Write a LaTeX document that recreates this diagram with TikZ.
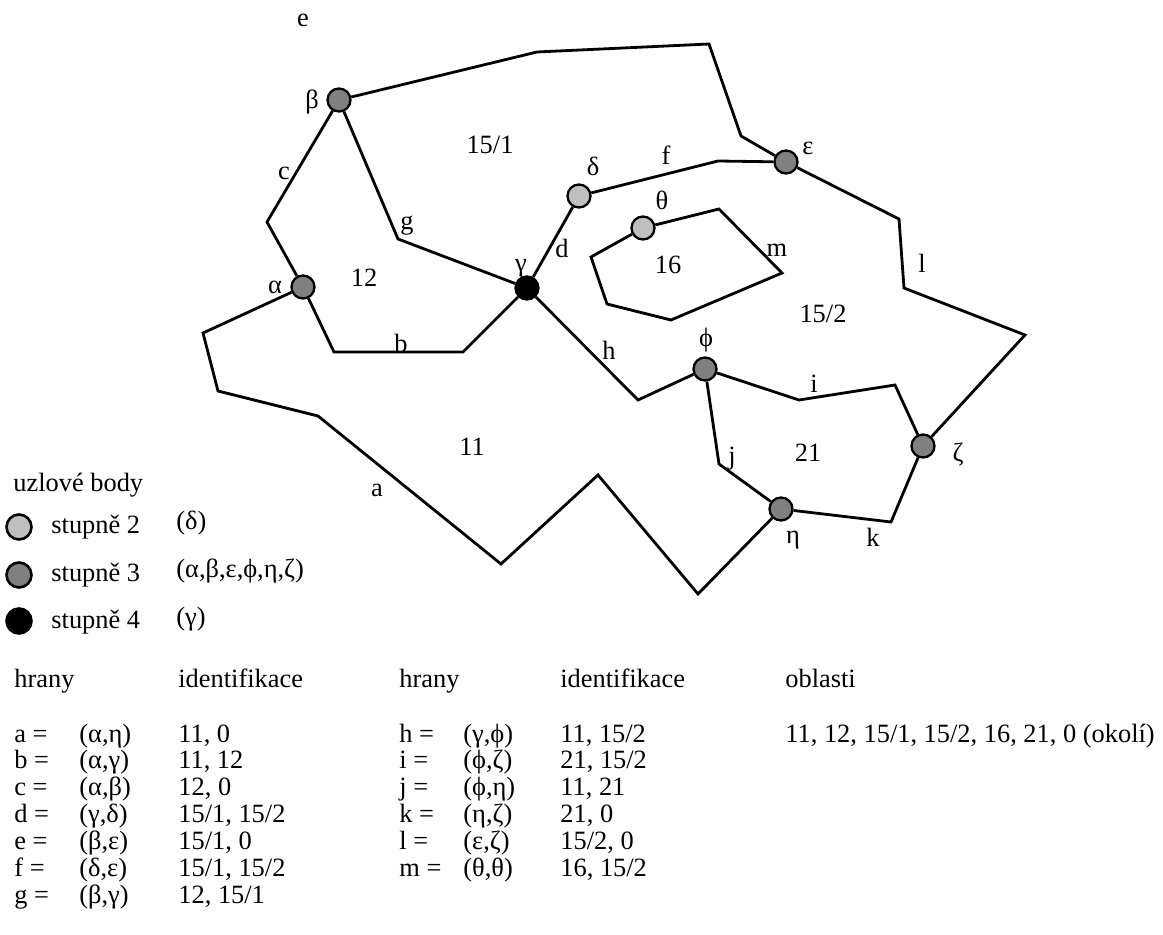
\documentclass[tikz,border=0pt]{standalone}
\usepackage{fontspec}
\setmainfont{Liberation Serif}
\usepackage{xcolor}
\usepackage{tikz}
\usetikzlibrary{positioning}

\begin{document}
\begin{tikzpicture}[x=0.5pt, y=-0.5pt, line width=1.4pt,
    every node/.style={font=\fontsize{13.2}{15}\selectfont, inner sep=0pt},
    vertex/.style={circle, draw, line width=1.15pt, minimum size=11.5pt},
    deg2/.style={vertex, fill=black!25},
    deg3/.style={vertex, fill=black!50},
    deg4/.style={vertex, fill=black},
    legendnode/.style={circle, draw, line width=1.3pt, minimum size=12.5pt},
    txt/.style={anchor=base west}]
    \useasboundingbox (0,0) rectangle (1163,935);

    % Nodes
    \node[deg3] (alpha) at (303,287) {};
    \node[deg3] (beta) at (339,100) {};
    \node[deg4] (gamma) at (527,288) {};
    \node[deg2] (delta) at (579,196) {};
    \node[deg3] (eps) at (786,162) {};
    \node[deg2] (theta) at (643,228) {};
    \node[deg3] (phi) at (705,369) {};
    \node[deg3] (zeta) at (923,446) {};
    \node[deg3] (eta) at (781,509) {};

    % Node labels
    \node (nalpha) at (275,287) {α};
    \node (nbeta) at (312,102) {β};
    \node (ngamma) at (521,268) {γ};
    \node (ndelta) at (593,166) {δ};
    \node (neps) at (808,148) {ε};
    \node (ntheta) at (662,200) {θ};
    \node (nphi) at (706,340) {ϕ};
    \node (nzeta) at (958,455) {ζ};
    \node (neta) at (793,540) {η};

    % Edges
    \draw (alpha) -- (203,333) -- (218,391) -- (318,416) -- (501,564) -- (598,475) -- (698,594) -- (eta);
    \draw (alpha) -- (334,352) -- (463,352) -- (gamma);
    \draw (alpha) -- (267,222) -- (beta);
    \draw (gamma) -- (delta);
    \draw (beta) -- (537,52) -- (709,44) -- (741,136) -- (eps);
    \draw (delta) -- (718,161) -- (eps);
    \draw (beta) -- (398,239) -- (gamma);
    \draw (gamma) -- (638,400) -- (phi);
    \draw (phi) -- (799,400) -- (895,385) -- (zeta);
    \draw (phi) -- (719,464) -- (eta);
    \draw (eta) -- (891,522) -- (zeta);
    \draw (eps) -- (899,219) -- (904,288) -- (1025,335) -- (zeta);
    \draw (theta) -- (719,209) -- (782,273) -- (671,320) -- (607,304) -- (591,257) -- (theta);

    % Edge labels
    \node (ea) at (377,490) {a};
    \node (eb) at (401,343) {b};
    \node (ec) at (284,173) {c};
    \node (ed) at (562,248) {d};
    \node (ee) at (303,20) {e};
    \node (ef) at (666,155) {f};
    \node (eg) at (407,226) {g};
    \node (eh) at (609,350) {h};
    \node (ei) at (814,384) {i};
    \node (ej) at (732,459) {j};
    \node (ek) at (873,537) {k};
    \node (el) at (922,263) {l};
    \node (em) at (777,250) {m};

    % Regions
    \node (r151) at (490,145) {15/1};
    \node (r12) at (364,278) {12};
    \node (r16) at (668,265) {16};
    \node (r152) at (823,314) {15/2};
    \node (r11) at (472,447) {11};
    \node (r21) at (808,453) {21};

    % Legend
    \node[txt] (lhead) at (12,492) {uzlové body};
    \node[legendnode, fill=black!25] (l2) at (19,527) {};
    \node[legendnode, fill=black!50] (l3) at (19,575) {};
    \node[legendnode, fill=black] (l4) at (19,621) {};
    \node[txt] (t2) at (50,534) {stupně 2};
    \node[txt] (t3) at (50,582) {stupně 3};
    \node[txt] (t4) at (50,629) {stupně 4};
    \node[txt] (v2) at (175,530) {(δ)};
    \node[txt] (v3) at (175,578) {(α,β,ε,ϕ,η,ζ)};
    \node[txt] (v4) at (175,625) {(γ)};

    % Edge table
    \node[txt] (h1) at (13,688) {hrany};
    \node[txt] (i1) at (177,688) {identifikace};
    \node[txt] (h2) at (398,688) {hrany};
    \node[txt] (i2) at (559,688) {identifikace};
    \node[txt] (ob) at (784,688) {oblasti};

    \node[txt] (qa) at (13,742) {a =};
    \node[txt] (pa) at (78,742) {(α,η)};
    \node[txt] (ia) at (177,742) {11, 0};
    \node[txt] (qb) at (13,769) {b =};
    \node[txt] (pb) at (78,769) {(α,γ)};
    \node[txt] (ib) at (177,769) {11, 12};
    \node[txt] (qc) at (13,795) {c =};
    \node[txt] (pc) at (78,795) {(α,β)};
    \node[txt] (ic) at (177,795) {12, 0};
    \node[txt] (qd) at (13,822) {d =};
    \node[txt] (pd) at (78,822) {(γ,δ)};
    \node[txt] (id) at (177,822) {15/1, 15/2};
    \node[txt] (qe) at (13,849) {e =};
    \node[txt] (pe) at (78,849) {(β,ε)};
    \node[txt] (ie) at (177,849) {15/1, 0};
    \node[txt] (qf) at (13,876) {f =};
    \node[txt] (pf) at (78,876) {(δ,ε)};
    \node[txt] (if) at (177,876) {15/1, 15/2};
    \node[txt] (qg) at (13,903) {g =};
    \node[txt] (pg) at (78,903) {(β,γ)};
    \node[txt] (ig) at (177,903) {12, 15/1};

    \node[txt] (qh) at (398,742) {h =};
    \node[txt] (ph) at (462,742) {(γ,ϕ)};
    \node[txt] (ih) at (559,742) {11, 15/2};
    \node[txt] (qi) at (398,769) {i =};
    \node[txt] (pi) at (462,769) {(ϕ,ζ)};
    \node[txt] (ii) at (559,769) {21, 15/2};
    \node[txt] (qj) at (398,795) {j =};
    \node[txt] (pj) at (462,795) {(ϕ,η)};
    \node[txt] (ij) at (559,795) {11, 21};
    \node[txt] (qk) at (398,822) {k =};
    \node[txt] (pk) at (462,822) {(η,ζ)};
    \node[txt] (ik) at (559,822) {21, 0};
    \node[txt] (ql) at (398,849) {l =};
    \node[txt] (pl) at (462,849) {(ε,ζ)};
    \node[txt] (il) at (559,849) {15/2, 0};
    \node[txt] (qm) at (398,876) {m =};
    \node[txt] (pm) at (462,876) {(θ,θ)};
    \node[txt] (im) at (559,876) {16, 15/2};

    \node[txt] (oa) at (784,742) {11, 12, 15/1, 15/2, 16, 21, 0 (okolí)};
\end{tikzpicture}
\end{document}
